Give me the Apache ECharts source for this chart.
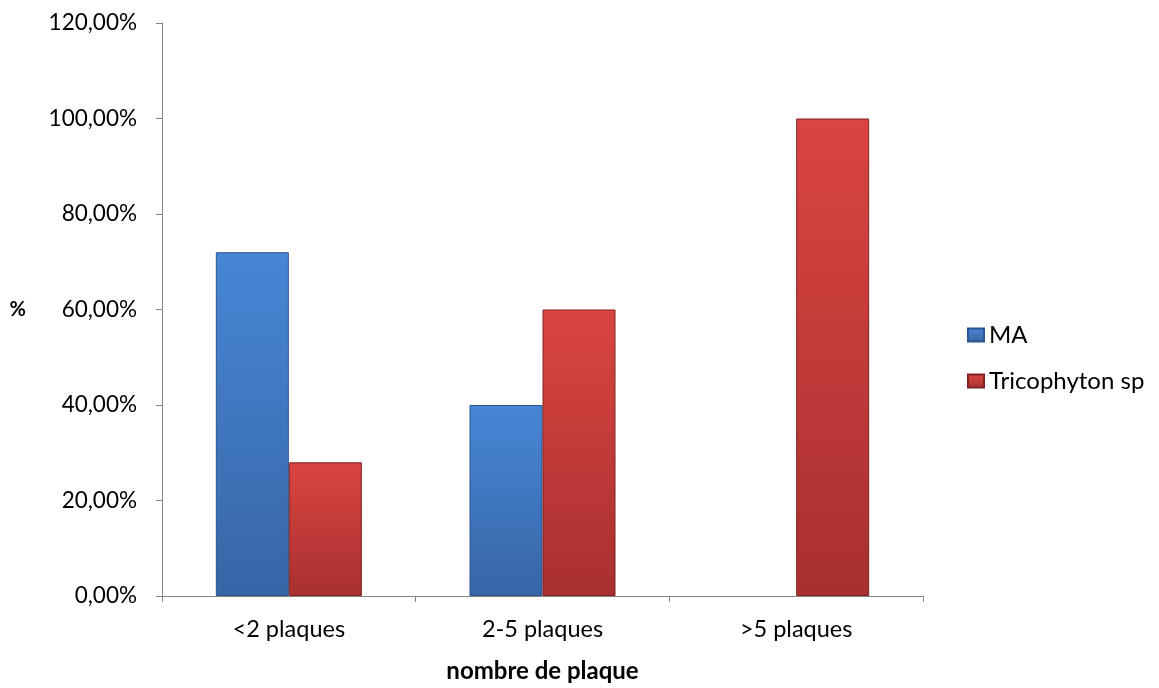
<!DOCTYPE html>
<html><head><meta charset="utf-8">
<script src="https://cdn.jsdelivr.net/npm/echarts@6/dist/echarts.min.js"></script>
<style>html,body{margin:0;padding:0;background:#fff}#c{width:1159px;height:688px}</style>
</head><body><div id="c"></div>
<script>
const categories = ['<2 plaques', '2-5 plaques', '>5 plaques'];
const seriesNames = ['MA', 'Tricophyton sp'];
const maValues = [72, 40, 0];
const tricoValues = [28, 60, 100];
const yTicks = [0, 20, 40, 60, 80, 100, 120];

const font = 'Lato, "Open Sans", sans-serif';
function grad(top, bottom) {
  return new echarts.graphic.LinearGradient(0, 0, 0, 1, [
    {offset: 0, color: top}, {offset: 1, color: bottom}
  ]);
}
function toData(arr) {
  return arr.map(v => v === 0 ? {value: v, itemStyle: {borderWidth: 0}} : v);
}
const chart = echarts.init(document.getElementById('c'));
chart.setOption({
  animation: false,
  textStyle: {fontFamily: font},
  grid: {left: 162, right: 236, top: 23, bottom: 88},
  legend: {
    orient: 'vertical', left: 962, top: 318, itemGap: 22,
    itemWidth: 16, itemHeight: 13, icon: 'rect',
    textStyle: {fontSize: 24, color: '#000', fontFamily: font},
    data: seriesNames
  },
  xAxis: {
    type: 'category', data: categories,
    name: 'nombre de plaque', nameLocation: 'middle', nameGap: 63,
    nameTextStyle: {fontSize: 24, fontWeight: 'bold', color: '#000', fontFamily: font},
    axisLine: {lineStyle: {color: '#868686', width: 1}},
    axisTick: {show: true, length: 6, lineStyle: {color: '#868686'}},
    axisLabel: {fontSize: 23.5, color: '#000', margin: 21, fontFamily: font}
  },
  yAxis: {
    type: 'value', min: 0, max: 120, interval: 20,
    name: '%', nameLocation: 'middle', nameRotate: 0, nameGap: 136,
    nameTextStyle: {fontSize: 20, fontWeight: 'bold', color: '#000', fontFamily: font, padding: [8, 0, 0, 0]},
    axisLine: {show: true, lineStyle: {color: '#868686', width: 1}},
    axisTick: {show: true, length: 6, lineStyle: {color: '#868686'}},
    splitLine: {show: false},
    axisLabel: {fontSize: 22.5, color: '#000', margin: 25, fontFamily: font,
      formatter: v => v.toFixed(2).replace('.', ',') + '%'}
  },
  series: [
    {name: seriesNames[0], type: 'bar', data: toData(maValues), barWidth: 73, barGap: '0%',
     itemStyle: {color: grad('#4786d6', '#3866a6'), borderColor: '#2c5590', borderWidth: 1}},
    {name: seriesNames[1], type: 'bar', data: toData(tricoValues), barWidth: 73, barGap: '0%',
     itemStyle: {color: grad('#da4542', '#a8302f'), borderColor: '#7e2221', borderWidth: 1}}
  ]
});
</script>
</body></html>
